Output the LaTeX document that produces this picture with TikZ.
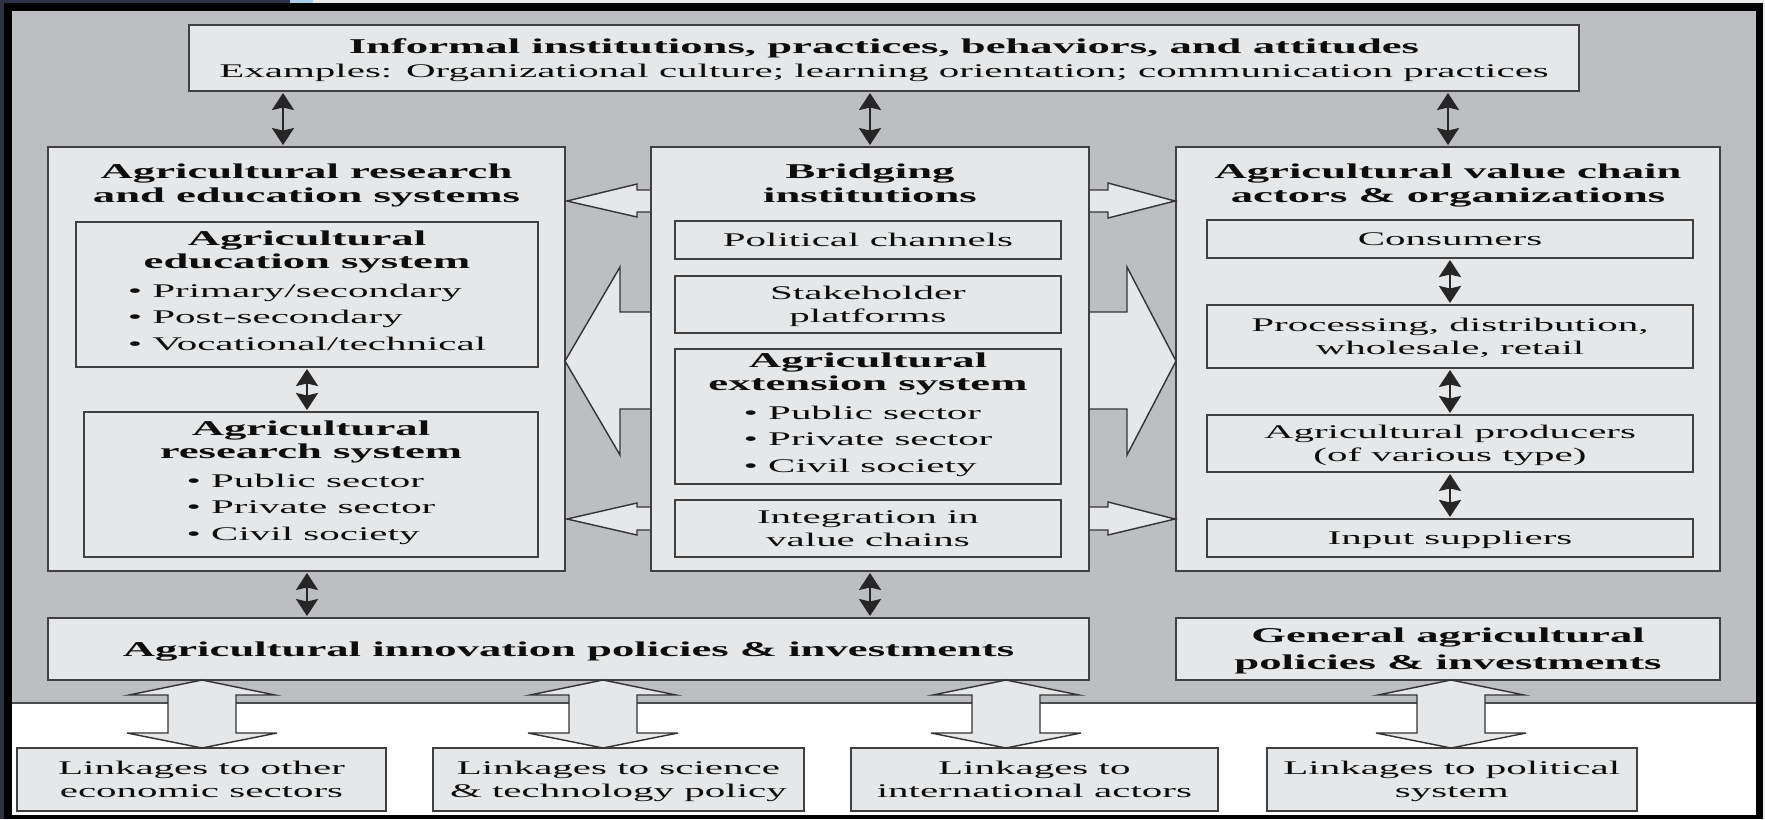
\documentclass[tikz,border=0pt]{standalone}
\usepackage{fontspec}
\setmainfont{Liberation Serif}[FakeStretch=2.12]
\usetikzlibrary{arrows.meta,positioning}
\definecolor{panel}{RGB}{189,190,194}
\definecolor{boxfill}{RGB}{230,231,232}
\definecolor{navy}{RGB}{44,49,68}
\definecolor{paleblue}{RGB}{170,205,235}
\newcommand{\hdfont}{\fontsize{12}{13.7}\selectfont\bfseries}
\renewcommand{\arraystretch}{1.13}

\begin{document}
\begin{tikzpicture}[x=0.02cm,y=-0.02cm,>={Stealth[length=0.34cm,width=0.44cm,inset=0.05cm]},
    box/.style={rectangle,draw=black!75,line width=1.1pt,fill=boxfill,inner sep=0pt,outer sep=0pt,text=black!95,text depth=0pt},
    listbox/.style={box,text depth={}},
    hd/.style={font=\hdfont,align=center,text=black!95,text depth=0pt},
    tx/.style={font=\fontsize{11}{13.4}\selectfont,align=center},
    link/.style={<->,line width=1.4pt,draw=black!85,shorten >=0.04cm,shorten <=0.04cm},
    blk/.style={fill=boxfill,draw=black!80,line width=0.8pt,line join=miter}]

\useasboundingbox (0,0) rectangle (1765,819);
% frame and panel
\fill[black] (0,0) rectangle (1765,819);
\fill[navy] (0,0) rectangle (290,3);
\fill[paleblue] (290,0) rectangle (313,3);
\fill[black!8] (313,0) rectangle (1765,3);
\fill[navy] (0,0) rectangle (4,819);
\fill[black!8] (1763,3) rectangle (1765,819);
\fill[panel] (12,11) rectangle (1756,703);
\fill[white] (12,703) rectangle (1756,815);
\draw[black!70,line width=0.8pt] (12,703) -- (1756,703);

\node[box,tx,minimum width=27.8cm,minimum height=1.32cm] (inf) at (884,58)
    {{\hdfont Informal institutions, practices, behaviors, and attitudes}\\
     Examples: Organizational culture; learning orientation; communication practices};

% left and right columns
\node[box,minimum width=10.34cm,minimum height=8.48cm] (lcol) at (306.5,359) {};
\node[hd] (areT) at (306.5,183) {Agricultural research\\and education systems};
\node[listbox,tx,minimum width=9.24cm,minimum height=2.9cm] (edu) at (307,294.5)
    {{\hdfont Agricultural}\\{\hdfont education system}\\[2pt]
     \begin{tabular}{@{}l@{}}\textbullet~Primary/secondary\\ \textbullet~Post-secondary\\ \textbullet~Vocational/technical\end{tabular}};
\node[listbox,tx,minimum width=9.08cm,minimum height=2.9cm,below=0.9cm of edu,xshift=0.08cm] (res)
    {{\hdfont Agricultural}\\{\hdfont research system}\\[2pt]
     \begin{tabular}{@{}l@{}}\textbullet~Public sector\\ \textbullet~Private sector\\ \textbullet~Civil society\end{tabular}};

\node[box,minimum width=10.88cm,minimum height=8.48cm] (rcol) at (1448,359) {};
\node[hd] (vcaT) at (1448,183) {Agricultural value chain\\actors \& organizations};
\node[box,tx,minimum width=9.72cm,minimum height=0.76cm] (cons) at (1450,239) {Consumers};
\node[box,tx,minimum width=9.72cm,minimum height=1.26cm,below=0.94cm of cons] (proc) {Processing, distribution,\\wholesale, retail};
\node[box,tx,minimum width=9.72cm,minimum height=1.14cm,below=0.94cm of proc] (prod) {Agricultural producers\\(of various type)};
\node[box,tx,minimum width=9.72cm,minimum height=0.76cm,below=0.94cm of prod] (inp) {Input suppliers};

% block arrows out of the bridging column
\filldraw[blk] (565,361) -- (620,267) -- (620,312) -- (1127,312) -- (1127,267) -- (1176,361)
    -- (1127,455) -- (1127,409) -- (620,409) -- (620,455) -- cycle;
\filldraw[blk] (651,190) -- (637,190) -- (637,184) -- (567,201) -- (637,217) -- (637,212) -- (651,212) -- cycle;
\filldraw[blk] (651,507) -- (637,507) -- (637,503) -- (567,519) -- (637,535) -- (637,530) -- (651,530) -- cycle;
\filldraw[blk] (1089,190) -- (1108,190) -- (1108,183) -- (1175,201) -- (1108,218) -- (1108,212) -- (1089,212) -- cycle;
\filldraw[blk] (1089,507) -- (1108,507) -- (1108,502) -- (1175,519) -- (1108,535) -- (1108,530) -- (1089,530) -- cycle;

% bridging column
\node[box,minimum width=8.76cm,minimum height=8.48cm] (bcol) at (870,359) {};
\node[hd] (briT) at (870,183) {Bridging\\institutions};
\node[box,tx,minimum width=7.72cm,minimum height=0.76cm] (pol) at (868,240) {Political channels};
\node[box,tx,minimum width=7.72cm,minimum height=1.14cm,below=0.34cm of pol] (stake) {Stakeholder\\platforms};
\node[listbox,tx,minimum width=7.72cm,minimum height=2.7cm,below=0.32cm of stake] (ext)
    {{\hdfont Agricultural}\\{\hdfont extension system}\\[2pt]
     \begin{tabular}{@{}l@{}}\textbullet~Public sector\\ \textbullet~Private sector\\ \textbullet~Civil society\end{tabular}};
\node[box,tx,minimum width=7.72cm,minimum height=1.14cm,below=0.32cm of ext] (integ) {Integration in\\value chains};

% policies and linkages
\node[box,hd,minimum width=20.82cm,minimum height=1.24cm] (innov) at (568.5,649) {Agricultural innovation policies \& investments};
\node[box,hd,font=\fontsize{12}{15.4}\selectfont\bfseries,minimum width=10.88cm,minimum height=1.24cm] (gen) at (1448,649) {General agricultural\\policies \& investments};

\node[box,tx,minimum width=7.38cm,minimum height=1.26cm] (lk1) at (201.5,779.5) {Linkages to other\\economic sectors};
\node[box,tx,minimum width=7.42cm,minimum height=1.26cm,right=0.94cm of lk1] (lk2) {Linkages to science\\\& technology policy};
\node[box,tx,minimum width=7.34cm,minimum height=1.26cm,right=0.94cm of lk2] (lk3) {Linkages to\\international actors};
\node[box,tx,minimum width=7.4cm,minimum height=1.26cm,right=0.98cm of lk3] (lk4) {Linkages to political\\system};

\filldraw[blk,shift={(202,0)}] (0,680) -- (73,695) -- (34,695) -- (34,733) -- (75,733) -- (0,748)
    -- (-75,733) -- (-34,733) -- (-34,695) -- (-73,695) -- cycle;
\filldraw[blk,shift={(603,0)}] (0,680) -- (73,695) -- (34,695) -- (34,733) -- (75,733) -- (0,748)
    -- (-75,733) -- (-34,733) -- (-34,695) -- (-73,695) -- cycle;
\filldraw[blk,shift={(1006,0)}] (0,680) -- (73,695) -- (34,695) -- (34,733) -- (75,733) -- (0,748)
    -- (-75,733) -- (-34,733) -- (-34,695) -- (-73,695) -- cycle;
\filldraw[blk,shift={(1451,0)}] (0,680) -- (73,695) -- (34,695) -- (34,733) -- (75,733) -- (0,748)
    -- (-75,733) -- (-34,733) -- (-34,695) -- (-73,695) -- cycle;

\coordinate (a1) at (283,0);
\draw[link] (inf.south -| a1) -- (lcol.north -| a1);
\draw[link] (inf.south -| bcol.north) -- (bcol.north);
\draw[link] (inf.south -| rcol.north) -- (rcol.north);
\draw[link] (edu.south) -- (res.north -| edu.south);
\draw[link] (cons) -- (proc);
\draw[link] (proc) -- (prod);
\draw[link] (prod) -- (inp);
\draw[link] (lcol.south -| edu.south) -- (innov.north -| edu.south);
\draw[link] (bcol.south) -- (innov.north -| bcol.south);

\end{tikzpicture}
\end{document}
